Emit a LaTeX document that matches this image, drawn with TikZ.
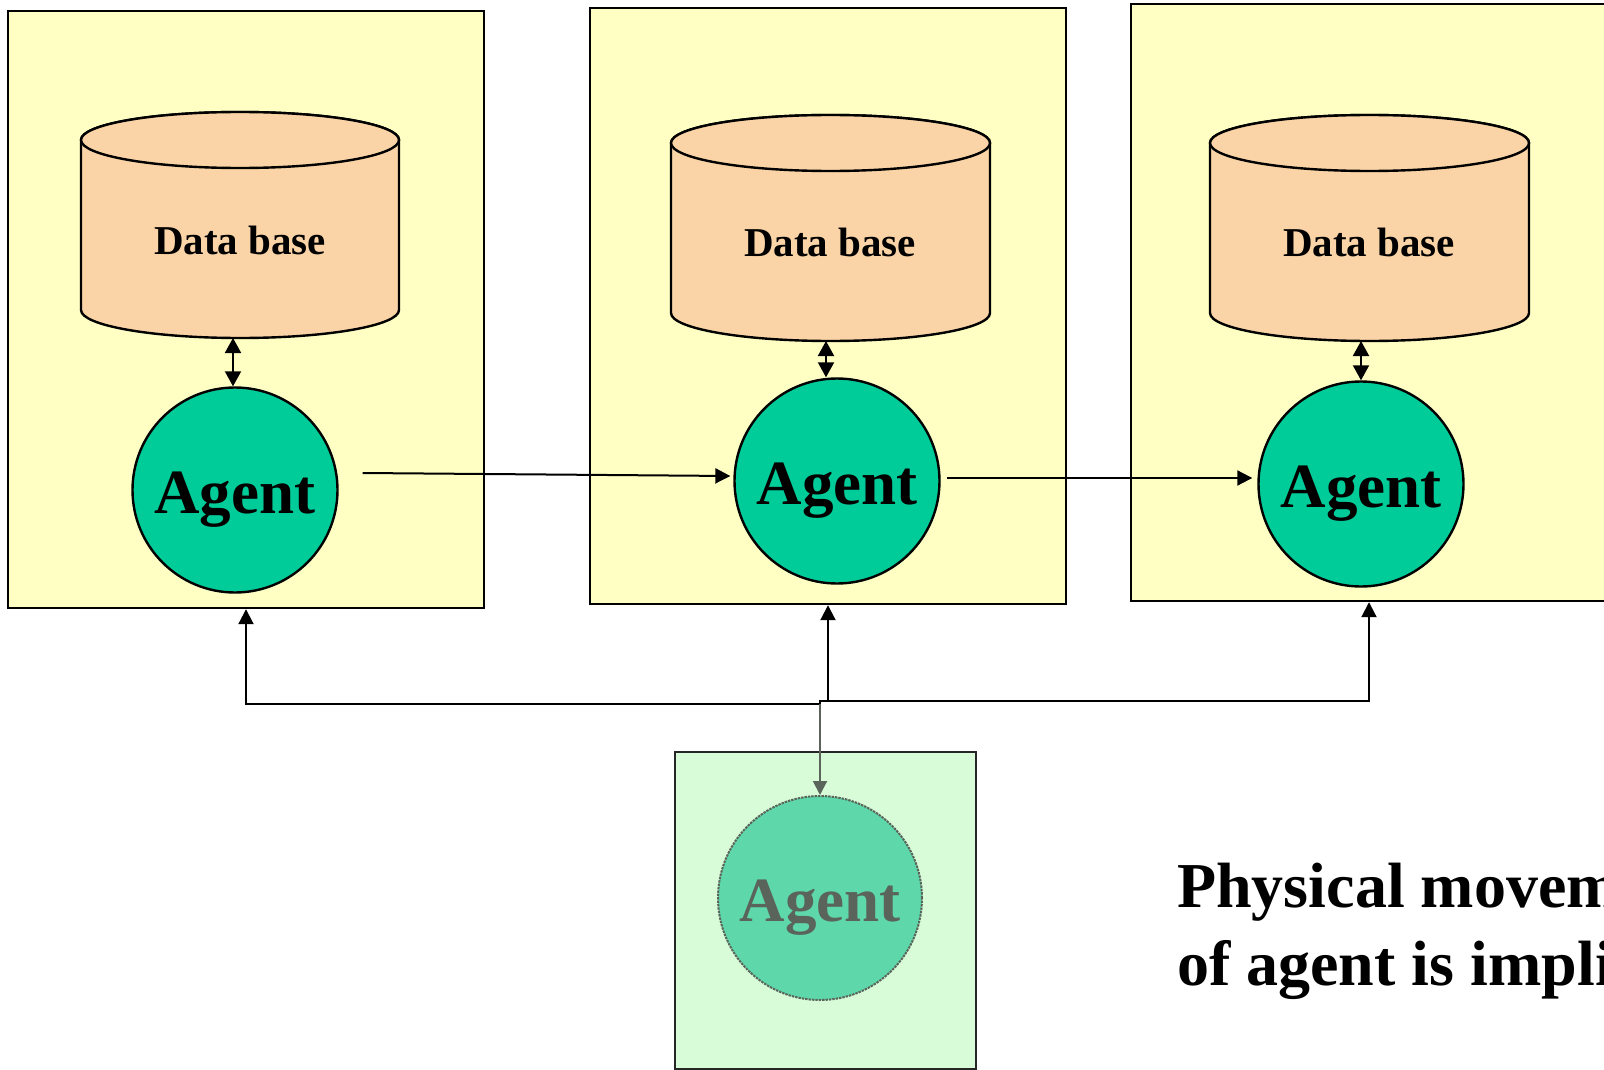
\documentclass[tikz,border=0pt]{standalone}
\usepackage{fontspec}
\setmainfont{Liberation Serif}
\usetikzlibrary{arrows.meta,calc}
\definecolor{hostfill}{HTML}{FFFFC4}
\definecolor{dbfill}{HTML}{FAD4A6}
\definecolor{agentfill}{HTML}{00CC99}
\definecolor{ghostbox}{HTML}{D8FCD8}
\definecolor{ghostagent}{HTML}{5ED8AA}
\definecolor{ghostline}{HTML}{5A645A}
\tikzset{
  hostbox/.style={draw=black, line width=2.4pt, fill=hostfill, rectangle, inner sep=0pt},
  dbshape/.style={draw=black, line width=2.4pt, fill=dbfill},
  dblabel/.style={font=\bfseries\fontsize{41}{46}\selectfont, inner sep=0pt},
  agent/.style={circle, draw=black, line width=2.4pt, fill=agentfill, minimum size=205pt, inner sep=0pt,
    text height=46pt, text depth=0pt, font=\bfseries\fontsize{63}{70}\selectfont},
  conn/.style={line width=2pt, -{Triangle[length=15pt,width=15pt]}},
  dbconn/.style={line width=2pt, {Triangle[length=15pt,width=16pt]}-{Triangle[length=15pt,width=16pt]}},
  note/.style={font=\bfseries\fontsize{64}{78}\selectfont, inner sep=0pt, anchor=base west}
}
\newcommand{\dbcyl}[4]{% centre x, top-ellipse centre y, bottom-ellipse centre y, half width
  \filldraw[dbshape] (#1-#4,#2) -- (#1-#4,#3) arc[start angle=180, end angle=0, x radius=#4, y radius=28]
    -- (#1+#4,#2) arc[start angle=0, end angle=-180, x radius=#4, y radius=28] -- cycle;
  \draw[dbshape] (#1,#2) ellipse[x radius=#4, y radius=28];
}
\begin{document}
\begin{tikzpicture}[x=1pt,y=-1pt]
\useasboundingbox (0,0) rectangle (1604,1070);
\clip (0,0) rectangle (1604,1070);

% host machines
\node[hostbox, minimum width=476pt, minimum height=597pt] (box1) at (246,309.5) {};
\node[hostbox, minimum width=476pt, minimum height=596pt] (box2) at (828,306) {};
\node[hostbox, minimum width=476pt, minimum height=597pt] (box3) at (1369,302.5) {};

% data bases
\dbcyl{240}{140}{310}{159}
\node[dblabel] (db1) at (240,240) {Data base};
\coordinate (db1b) at (233,338);
\dbcyl{830.5}{143}{313}{159.5}
\node[dblabel] (db2) at (830,242) {Data base};
\coordinate (db2b) at (826,341);
\dbcyl{1369.5}{143}{313}{159.5}
\node[dblabel] (db3) at (1369,242) {Data base};
\coordinate (db3b) at (1361,341);

% agents
\node[agent] (ag1) at (235,490) {Agent};
\node[agent] (ag2) at (837,481) {Agent};
\node[agent] (ag3) at (1361,484) {Agent};

% agent <-> data base
\draw[dbconn] (db1b) -- (ag1.north -| db1b);
\draw[dbconn] (db2b) -- (ag2.north -| db2b);
\draw[dbconn] (db3b) -- (ag3.north -| db3b);

% migration between hosts
\coordinate (m1) at ($(ag1.east)+(24,-17)$);
\draw[conn] (m1) -- ($(ag2.west)+(-3,-5)$);
\coordinate (m2) at ($(ag2.east)+(6,-3)$);
\draw[conn] (m2) -- ($(ag3.west)+(-5,-6)$);

% faded agent at the bottom
\node[draw=black!85, line width=2pt, fill=ghostbox, minimum width=301pt, minimum height=317pt, inner sep=0pt] (box4) at (825.5,910.5) {};
\node[agent, draw=ghostline, densely dotted, line width=2pt, fill=ghostagent, text=ghostline, minimum size=204pt] (ag4) at (820,898) {Agent};

% dispatch lines
\coordinate (j1) at (820,704);
\coordinate (j2) at (828,701);
\draw[conn] (j1) -| (box1.south);
\draw[line width=2pt] (j1) |- (j2);
\draw[conn] (j2) -- (box2.south);
\draw[conn] (j2) -| (box3.south);
\draw[conn, draw=ghostline, -{Triangle[length=14pt,width=14pt,fill=ghostline]}] (j1) -- (ag4.north);

% note
\node[note] (note1) at (1177,907) {Physical movement};
\node[note] (note2) at (1177,985) {of agent is implied};
\end{tikzpicture}
\end{document}
